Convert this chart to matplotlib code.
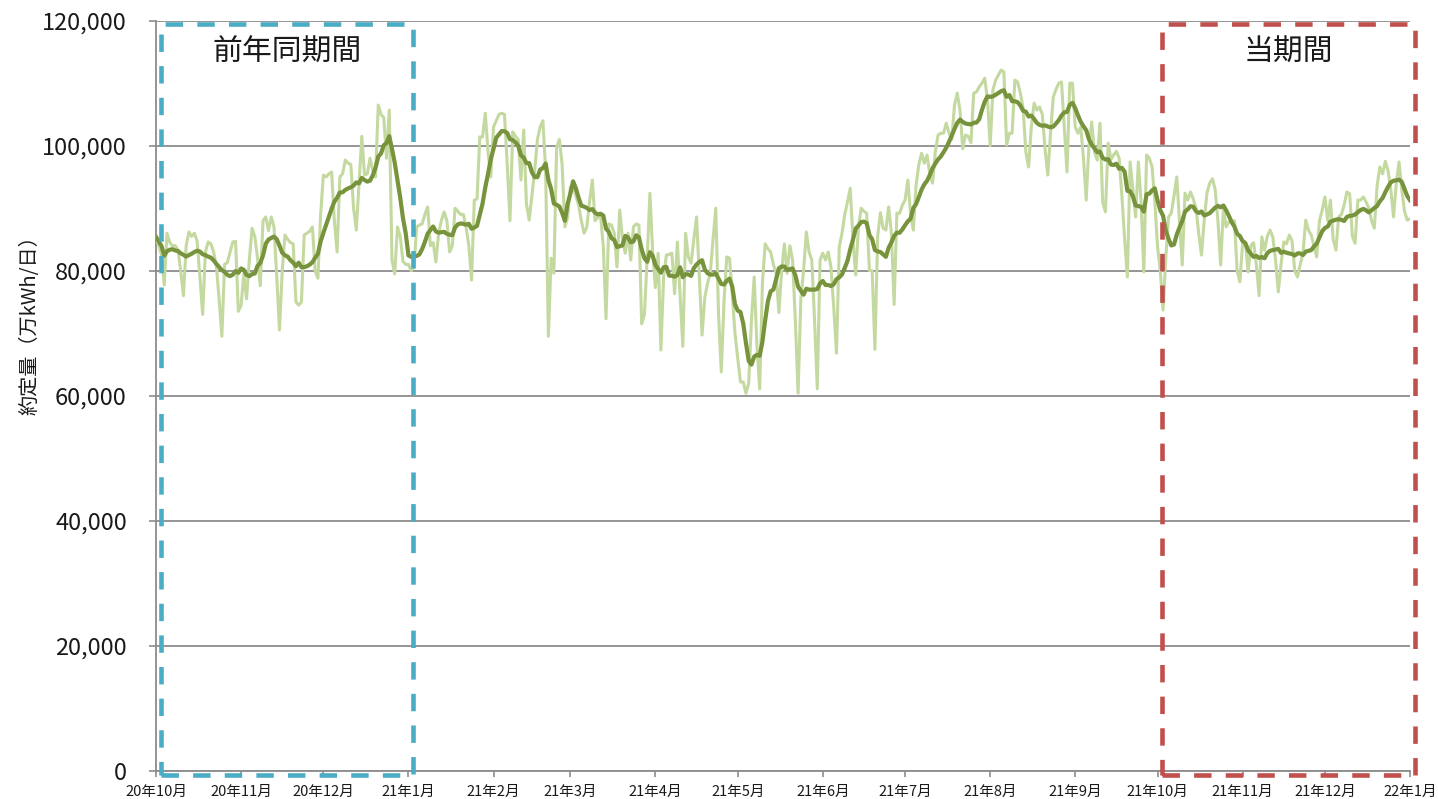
"""
Daily contracted volume (約定量) with 7-day moving average,
previous-year period and current period boxed.
"""

import numpy as np
import pandas as pd
import matplotlib
matplotlib.use('Agg')
import matplotlib.pyplot as plt
import matplotlib.dates as mdates
import matplotlib.ticker as mticker
from matplotlib.patches import Rectangle

# daily values, 万kWh/日 (in thousands), one list per month
oct20 = [85.4, 84, 82.5, 77.7, 86, 84.5, 84, 84, 83.3, 80, 76, 84, 86.2, 85.5, 86, 84.7,
         79, 73, 83, 84.6, 84.3, 83, 80.7, 75.5, 69.5, 81, 81.3, 83, 84.6, 84.7, 73.5]
nov20 = [74.4, 79.5, 75.5, 81.7, 86.8, 85.5, 82, 77.6, 88, 88.6, 86.4, 88.6, 87, 79, 70.5,
         80, 85.7, 85, 84.5, 84.3, 75, 74.5, 75, 85.7, 86, 86.3, 87, 80, 78.8, 89]
dec20 = [95.3, 95, 95.5, 95.8, 88, 83, 95, 95.5, 97.7, 97.2, 97, 90, 86.5, 94, 101.5, 95.3,
         95.5, 98, 96, 95, 106.5, 105, 104.5, 98, 105.7, 81.7, 79.5, 87, 85.5, 81.5, 81]
jan21 = [81, 80, 80.5, 87, 87.3, 87.5, 89, 90.2, 84, 84.5, 81.4, 86, 88, 89.4, 88, 83,
         84, 90, 89.5, 89, 89, 87, 84, 78.5, 91.3, 91.5, 101.4, 101.4, 105.2, 99, 95]
feb21 = [103, 104, 105, 105.2, 105, 97, 88, 102.2, 101.5, 101, 94.5, 102.5, 90.7, 88.1,
         92, 96, 101, 103, 104, 96, 69.5, 82, 79.6, 99.8, 101, 97, 87, 88.5]
mar21 = [93.4, 93.4, 92, 90.5, 88, 86, 87, 91, 94.5, 88, 88.5, 88.8, 84, 72.3, 87.5, 87.3,
         86, 80.6, 89.7, 85, 82.8, 86, 81.7, 87, 87.5, 87.3, 71.5, 73, 82, 92.4, 83]
apr21 = [77.3, 82.8, 67.3, 79, 82.5, 82.6, 82.8, 76.3, 84.6, 76, 67.9, 86, 82.2, 81.2, 85,
         88.6, 79, 69.7, 75.7, 78, 79.6, 85, 90, 73.1, 63.8, 75, 82.2, 82, 76.3, 70]
may21 = [66, 62.2, 62.2, 60.4, 62, 72, 79, 68, 61.1, 78, 84.3, 83.5, 83, 81, 79.6, 73.3,
         80, 84.3, 79.6, 84, 81.7, 72, 60.4, 75.5, 80, 86.2, 83, 81.7, 72, 61.1, 81.7]
jun21 = [82.8, 81.7, 83, 80.5, 74, 66.8, 83.8, 86, 89, 91, 93.2, 85, 79.3, 87, 90, 89.5,
         89.2, 80, 80, 67.4, 85.5, 89.3, 86.8, 86.5, 90.2, 86, 74.6, 89.2, 89.2, 90.5]
jul21 = [91.3, 94.5, 89, 86.5, 93.7, 97, 98.8, 97.2, 98.5, 95.5, 94, 99, 101.7, 102, 102,
         103.6, 102, 101, 106.5, 108.4, 105.7, 99.5, 101.7, 101.5, 100.5, 108.4, 108.6,
         109.4, 110, 110.8, 107.5]
aug21 = [100, 108.9, 110.5, 111.3, 112.1, 111.8, 100.1, 102, 102, 110.5, 110.2, 108.4, 106,
         99, 96.6, 103, 106.8, 105.7, 106.2, 105, 99.5, 95.3, 102, 107.8, 109, 110, 110.2,
         103, 95.8, 110, 110]
sep21 = [103, 102, 103, 98, 91.3, 100, 103.8, 99, 97.7, 103.6, 91, 89.4, 100.4, 97.8, 98.5,
         99.1, 98, 92, 85, 79, 97.4, 93, 88.6, 97.4, 91, 79.8, 98.5, 98, 96.6, 91]
oct21 = [83.8, 80, 73.7, 82, 88.6, 89.2, 92, 95, 88, 80.9, 92.4, 91.3, 92.6, 91.5, 90, 86,
         82.5, 88, 92.4, 94, 94.7, 93, 88, 80.9, 90, 87, 87.8, 87.8, 88, 80, 78.2]
nov21 = [84.4, 84.6, 79.8, 84, 84.5, 81, 76, 85.4, 83.3, 85.5, 86.5, 85.4, 81.7, 76.6, 81,
         84.6, 84.3, 85.7, 84.8, 80, 79, 81, 82.8, 88.1, 86.5, 85.7, 84, 82.2, 88, 89.7]
dec21 = [91.8, 88, 91.3, 85, 83.3, 88.6, 89, 90.5, 92.6, 92.3, 85.5, 84.4, 91.3, 91.3, 91.8,
         91, 90, 88, 86.8, 93.5, 96.6, 95.5, 97.5, 96, 93, 88.6, 94, 97.4, 93, 89.5, 88.1]
jan22 = [88.3]

months = ['20年10月', '20年11月', '20年12月', '21年1月', '21年2月', '21年3月', '21年4月',
          '21年5月', '21年6月', '21年7月', '21年8月', '21年9月', '21年10月', '21年11月',
          '21年12月', '22年1月']

# comparison periods (start, end, label, colour)
periods = [('2020-10-01', '2021-01-01', '前年同期間', '#4bacc6'),
           ('2021-10-01', '2022-01-01', '当期間', '#c0504d')]


def main():
    vals = np.array(oct20 + nov20 + dec20 + jan21 + feb21 + mar21 + apr21 + may21 + jun21
                    + jul21 + aug21 + sep21 + oct21 + nov21 + dec21 + jan22) * 1000
    days = pd.date_range('2020-10-01', periods=len(vals), freq='D')
    s = pd.Series(vals, index=days)
    ma = s.rolling(7, min_periods=1).mean()

    plt.rcParams['font.family'] = ['Noto Sans CJK JP', 'DejaVu Sans']
    fig = plt.figure(figsize=(14.38, 7.99), dpi=100)
    ax = fig.add_axes([156 / 1438, 1 - 770.7 / 799, 1254 / 1438, 750 / 799])

    ax.plot(s.index, s.values, color='#c4d9a0', lw=2.2, zorder=3)
    ax.plot(ma.index, ma.values, color='#77933c', lw=3.0, zorder=4)

    ax.set_ylim(0, 120000)
    ax.set_yticks(np.arange(0, 120001, 20000))
    ax.yaxis.set_major_formatter(mticker.StrMethodFormatter('{x:,.0f}'))
    ax.set_xlim(pd.Timestamp('2020-10-01'), pd.Timestamp('2022-01-01'))
    ticks = pd.date_range('2020-10-01', '2022-01-01', freq='MS')
    ax.set_xticks(ticks)
    ax.set_xticklabels(months)

    ax.grid(axis='y', color='#8c8c8c', lw=1.3)
    ax.set_axisbelow(True)
    for side in ['top', 'right']:
        ax.spines[side].set_visible(False)
    for side in ['left', 'bottom']:
        ax.spines[side].set_color('#8c8c8c')
        ax.spines[side].set_linewidth(1.3)
    ax.tick_params(axis='y', length=5, width=1.2, color='#8c8c8c', pad=16, labelsize=17,
                   labelcolor='#1a1a1a')
    ax.tick_params(axis='x', length=4, width=1.2, color='#8c8c8c', pad=6, labelsize=10.5,
                   labelcolor='#1a1a1a')

    # dashed boxes sit ~1.7 days right of the period start in the original
    shift = 1.7
    for start, end, label, col in periods:
        x0 = mdates.date2num(pd.Timestamp(start)) + shift
        x1 = mdates.date2num(pd.Timestamp(end)) + shift
        rect = Rectangle((x0, -700), x1 - x0, 120200, fill=False, edgecolor=col, lw=3.3,
                         linestyle=(0, (3.8, 3.1)), clip_on=False, zorder=5)
        ax.add_patch(rect)
        ax.text((x0 + x1) / 2, 115000, label, ha='center', va='center', fontsize=21.5,
                color='#1a1a1a', zorder=6)

    fig.text(30 / 1438, 1 - 320 / 799, '約定量（万kWh/日）', rotation=90, ha='center',
             va='center', fontsize=14.5, color='#1a1a1a')

    fig.savefig('out.png', dpi=100)


if __name__ == '__main__':
    main()
